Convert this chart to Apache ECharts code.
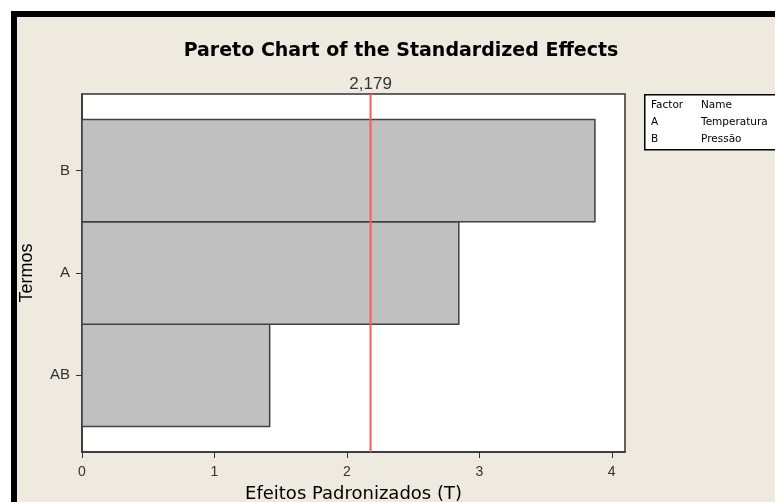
<!DOCTYPE html>
<html>
<head>
<meta charset="utf-8">
<script src="https://cdn.jsdelivr.net/npm/echarts@6/dist/echarts.min.js"></script>
<style>
  html, body { margin: 0; padding: 0; background: #fff; }
  #main { width: 775px; height: 502px; }
</style>
</head>
<body>
<div id="main"></div>
<script>
// termos (de baixo para cima) e efeitos padronizados
const terms = ['AB', 'A', 'B'];
const effects = [1.417, 2.845, 3.873];
const termPos = [1, 2, 3];
const xTicks = [0, 1, 2, 3, 4];
const critT = 2.179;
const factors = ['A', 'B'];
const factorNames = ['Temperatura', 'Pressão'];

const chartDom = document.getElementById('main');
const myChart = echarts.init(chartDom);

const barData = effects.map((v, i) => [v, termPos[i]]);

// tabela de fatores ao lado do grafico
const tblFont = { fontSize: 10.5, fontFamily: 'DejaVu Sans', fill: '#000' };
const tableTexts = [
  { type: 'text', left: 651, top: 100, style: Object.assign({ text: 'Factor' }, tblFont) },
  { type: 'text', left: 701, top: 100, style: Object.assign({ text: 'Name' }, tblFont) }
];
factors.forEach((f, i) => {
  tableTexts.push({ type: 'text', left: 651, top: 117 + i * 17, style: Object.assign({ text: f }, tblFont) });
  tableTexts.push({ type: 'text', left: 701, top: 117 + i * 17, style: Object.assign({ text: factorNames[i] }, tblFont) });
});

const option = {
  backgroundColor: '#EEEAE0',
  animation: false,
  title: {
    text: 'Pareto Chart of the Standardized Effects',
    left: 396,
    top: 37,
    textAlign: 'center',
    textStyle: { fontFamily: 'DejaVu Sans', fontWeight: 'bold', fontSize: 19, color: '#000' }
  },
  grid: {
    left: 82, right: 150, top: 94, bottom: 50,
    outerBoundsMode: 'none',
    show: true, backgroundColor: '#fff', borderColor: '#333', borderWidth: 1.5
  },
  xAxis: {
    type: 'value',
    min: 0,
    max: 4.1,
    name: 'Efeitos Padronizados (T)',
    nameLocation: 'middle',
    nameGap: 33,
    nameTextStyle: { fontFamily: 'DejaVu Sans', fontSize: 18, color: '#000' },
    axisLine: { show: true, lineStyle: { color: '#333', width: 1.5 } },
    axisTick: { show: true, length: 6, customValues: xTicks, lineStyle: { color: '#333' } },
    axisLabel: { customValues: xTicks, fontFamily: 'Liberation Sans', fontSize: 14, color: '#333', margin: 13 },
    splitLine: { show: false }
  },
  yAxis: {
    type: 'value',
    min: 0.25,
    max: 3.75,
    name: 'Termos',
    nameLocation: 'middle',
    nameGap: 46,
    nameRotate: 90,
    nameTextStyle: { fontFamily: 'Liberation Sans', fontSize: 18, color: '#000' },
    axisLine: { show: true, lineStyle: { color: '#333', width: 1.5 } },
    axisTick: { show: true, length: 6, customValues: termPos, lineStyle: { color: '#333' } },
    axisLabel: {
      customValues: termPos,
      formatter: v => terms[termPos.indexOf(v)] || '',
      fontFamily: 'Liberation Sans', fontSize: 15, color: '#333', margin: 12
    },
    splitLine: { show: false }
  },
  series: [
    {
      type: 'custom',
      data: barData,
      encode: { x: 0, y: 1 },
      renderItem: (params, api) => {
        const v = api.value(0);
        const y = api.value(1);
        const p0 = api.coord([0, y + 0.5]);
        const p1 = api.coord([v, y - 0.5]);
        return {
          type: 'rect',
          shape: { x: p0[0], y: p0[1], width: p1[0] - p0[0], height: p1[1] - p0[1] },
          style: { fill: '#C0C0C0', stroke: '#404040', lineWidth: 1.5 }
        };
      }
    },
    {
      type: 'line',
      data: [[critT, 0.25], [critT, 3.75]],
      symbol: 'circle',
      symbolSize: 0.1,
      showSymbol: true,
      lineStyle: { color: '#FF5A5A', width: 2 },
      itemStyle: { color: '#FF5A5A' },
      z: 5,
      label: {
        show: true,
        position: 'top',
        distance: 1,
        formatter: p => (p.dataIndex === 1 ? String(critT).replace('.', ',') : ''),
        fontFamily: 'Liberation Sans', fontSize: 17, color: '#333'
      }
    }
  ],
  graphic: [
    { type: 'rect', left: 0, top: 0, shape: { width: 775, height: 11 }, style: { fill: '#fff' } },
    { type: 'rect', left: 0, top: 0, shape: { width: 11, height: 502 }, style: { fill: '#fff' } },
    { type: 'rect', left: 11, top: 11, shape: { width: 764, height: 6 }, style: { fill: '#000' } },
    { type: 'rect', left: 11, top: 11, shape: { width: 6, height: 491 }, style: { fill: '#000' } },
    { type: 'rect', left: 644, top: 94, shape: { width: 140, height: 55 }, style: { fill: '#fff', stroke: '#000', lineWidth: 1.5 } }
  ].concat(tableTexts)
};

option && myChart.setOption(option);
</script>
</body>
</html>
